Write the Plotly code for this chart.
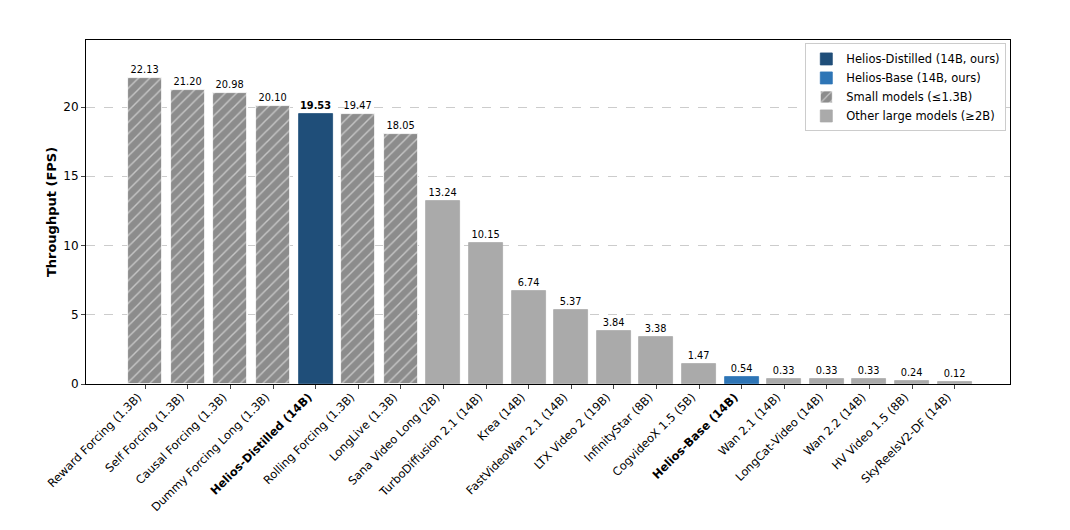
import plotly.graph_objects as go

models = ["Reward Forcing (1.3B)", "Self Forcing (1.3B)", "Causal Forcing (1.3B)",
          "Dummy Forcing Long (1.3B)", "Helios-Distilled (14B)", "Rolling Forcing (1.3B)",
          "LongLive (1.3B)", "Sana Video Long (2B)", "TurboDiffusion 2.1 (14B)",
          "Krea (14B)", "FastVideoWan 2.1 (14B)", "LTX Video 2 (19B)",
          "InfinityStar (8B)", "CogvideoX 1.5 (5B)", "Helios-Base (14B)",
          "Wan 2.1 (14B)", "LongCat-Video (14B)", "Wan 2.2 (14B)",
          "HV Video 1.5 (8B)", "SkyReelsV2-DF (14B)"]
fps = [22.13, 21.20, 20.98, 20.10, 19.53, 19.47, 18.05, 13.24, 10.15, 6.74,
       5.37, 3.84, 3.38, 1.47, 0.54, 0.33, 0.33, 0.33, 0.24, 0.12]
group = ["small", "small", "small", "small", "distilled", "small", "small",
         "large", "large", "large", "large", "large", "large", "large", "base",
         "large", "large", "large", "large", "large"]

groups = [
    ("distilled", "Helios-Distilled (14B, ours)", "#1f4e79", None),
    ("base", "Helios-Base (14B, ours)", "#2e75b6", None),
    ("small", "Small models (≤1.3B)", "#8c8c8c", "/"),
    ("large", "Other large models (≥2B)", "#aaaaaa", None),
]

fig = go.Figure()
for key, name, color, hatch in groups:
    idx = [i for i, g in enumerate(group) if g == key]
    xs = idx
    ys = [fps[i] for i in idx]
    txt = [f"<b>{v:.2f}</b>" if key == "distilled" else f"{v:.2f}" for v in ys]
    marker = dict(color=color, line=dict(color="white" if hatch else color, width=0.8))
    if hatch:
        marker["pattern"] = dict(shape="/", fgcolor="white", bgcolor=color,
                                 size=8, solidity=0.18, fillmode="overlay")
    fig.add_trace(go.Bar(x=xs, y=ys, name=name, marker=marker, width=0.8,
                         text=txt, textposition="outside", cliponaxis=False,
                         textfont=dict(size=9.8, color="black"),
                         textangle=0))

ticktext = [f"<b>{m}</b>" if m.startswith("Helios") else m for m in models]

fig.update_layout(
    width=1054, height=514,
    margin=dict(l=78, r=52, t=32, b=138),
    plot_bgcolor="white", paper_bgcolor="white",
    font=dict(family="DejaVu Sans", size=12, color="black"),
    barmode="overlay", bargap=0,
    showlegend=True,
    legend=dict(x=0.996, y=0.99, xanchor="right", yanchor="top",
                bordercolor="#cccccc", borderwidth=1, bgcolor="white",
                font=dict(size=11.5), traceorder="normal", tracegroupgap=0),
    uniformtext=dict(minsize=8, mode="show"),
)
fig.update_xaxes(
    range=[-1.39, 20.3], tickmode="array", tickvals=list(range(len(models))),
    ticktext=ticktext, tickangle=-45, ticks="outside", ticklen=4,
    showline=True, linecolor="black", linewidth=1, mirror=True,
    showgrid=False, tickfont=dict(size=11.5), automargin=False,
    ticklabelshift=-7, ticklabelstandoff=-3,
)
fig.update_yaxes(
    range=[0, 24.84], tickvals=[0, 5, 10, 15, 20], ticks="outside", ticklen=4,
    showline=True, linecolor="black", linewidth=1, mirror=True,
    showgrid=True, gridcolor="#cccccc", griddash="dash", gridwidth=0.8,
    zeroline=False, title=dict(text="<b>Throughput (FPS)</b>", font=dict(size=13), standoff=3),
    tickfont=dict(size=12), automargin=False,
)
fig.write_html("out.html")
